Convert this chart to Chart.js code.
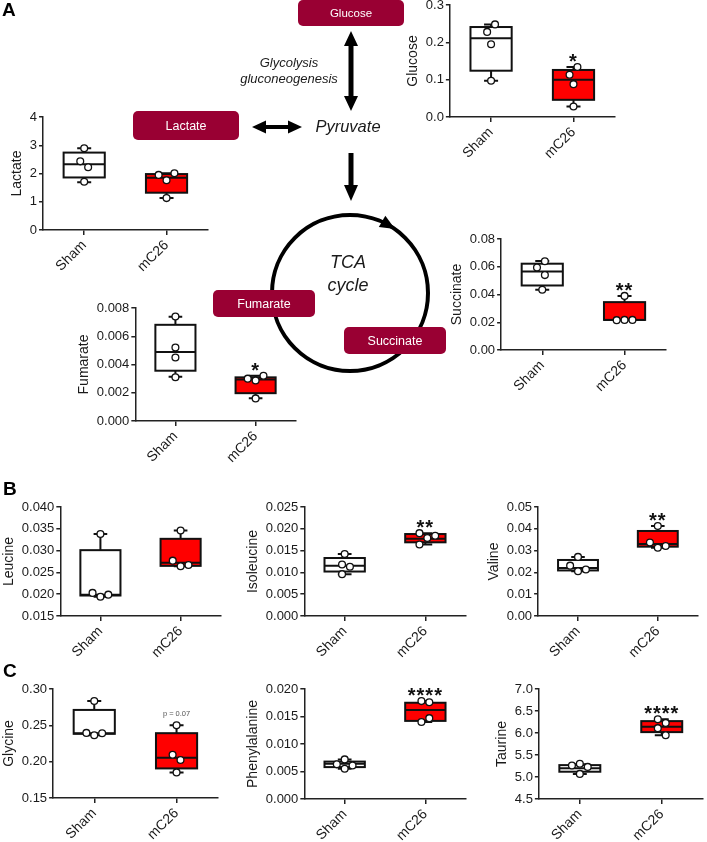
<!DOCTYPE html>
<html>
<head>
<meta charset="utf-8">
<script src="https://cdn.jsdelivr.net/npm/chart.js@4.4.1/dist/chart.umd.min.js"></script>
<style>
  body { margin: 0; background: #fff; width: 707px; height: 842px; position: relative; overflow: hidden; }
  #bg { position: absolute; left: 0; top: 0; }
  .box { position: absolute; }
  .box canvas { display: block; }
</style>
</head>
<body>
<canvas id="bg" width="707" height="842"></canvas>
<script>
const groups = ['Sham', 'mC26'];

// box stats per group: [min, q1, median, q3, max]
const glucoseBox = [[0.097, 0.124, 0.211, 0.241, 0.248], [0.028, 0.046, 0.100, 0.126, 0.134]];
const glucoseSham = [0.248, 0.228, 0.195, 0.097];
const glucoseMC26 = [0.134, 0.113, 0.088, 0.028];
const glucoseTicks = ['0.0', '0.1', '0.2', '0.3'];
const glucoseSig = ['', '*'];

const lactateBox = [[1.69, 1.86, 2.33, 2.74, 2.89], [1.13, 1.32, 1.85, 1.98, 2.01]];
const lactateSham = [2.89, 2.22, 2.43, 1.71];
const lactateMC26 = [1.76, 1.95, 2.01, 1.13];
const lactateTicks = ['0', '1', '2', '3', '4'];
const lactateSig = ['', ''];

const fumarateBox = [[0.00313, 0.00356, 0.00489, 0.00681, 0.00738], [0.00161, 0.00197, 0.00294, 0.00309, 0.0032]];
const fumarateSham = [0.0074, 0.0052, 0.0045, 0.0031];
const fumarateMC26 = [0.00287, 0.0030, 0.0032, 0.0016];
const fumarateTicks = ['0.000', '0.002', '0.004', '0.006', '0.008'];
const fumarateSig = ['', '*'];

const succinateBox = [[0.0434, 0.0465, 0.0566, 0.0622, 0.0641], [0.0215, 0.0217, 0.0217, 0.0345, 0.039]];
const succinateSham = [0.064, 0.0595, 0.054, 0.0434];
const succinateMC26 = [0.039, 0.0217, 0.0215, 0.0217];
const succinateTicks = ['0.00', '0.02', '0.04', '0.06', '0.08'];
const succinateSig = ['', '**'];

const leucineBox = [[0.0194, 0.0197, 0.0199, 0.0301, 0.0338], [0.0264, 0.0265, 0.0272, 0.0327, 0.0346]];
const leucineSham = [0.0338, 0.0194, 0.0203, 0.0199];
const leucineMC26 = [0.0346, 0.0264, 0.0277, 0.0267];
const leucineTicks = ['0.015', '0.020', '0.025', '0.030', '0.035', '0.040'];
const leucineSig = ['', ''];

const isoleucineBox = [[0.0096, 0.0102, 0.0115, 0.0133, 0.0142], [0.0164, 0.0169, 0.0177, 0.0188, 0.019]];
const isoleucineSham = [0.0142, 0.0113, 0.0118, 0.0096];
const isoleucineMC26 = [0.0179, 0.019, 0.0184, 0.0164];
const isoleucineTicks = ['0.000', '0.005', '0.010', '0.015', '0.020', '0.025'];
const isoleucineSig = ['', '**'];

const valineBox = [[0.0205, 0.0209, 0.0220, 0.0257, 0.0271], [0.0313, 0.0318, 0.0330, 0.0390, 0.0413]];
const valineSham = [0.0271, 0.0205, 0.0231, 0.0213];
const valineMC26 = [0.0413, 0.0313, 0.0337, 0.0321];
const valineTicks = ['0.00', '0.01', '0.02', '0.03', '0.04', '0.05'];
const valineSig = ['', '**'];

const glycineBox = [[0.2364, 0.2383, 0.2392, 0.2712, 0.2835], [0.1852, 0.1907, 0.2053, 0.2392, 0.250]];
const glycineSham = [0.2835, 0.2364, 0.2396, 0.2392];
const glycineMC26 = [0.250, 0.2022, 0.2095, 0.1852];
const glycineTicks = ['0.15', '0.20', '0.25', '0.30'];
const glycineSig = ['', 'p = 0.07'];

const pheBox = [[0.0055, 0.0058, 0.0064, 0.0068, 0.0072], [0.0140, 0.0142, 0.0162, 0.0175, 0.0178]];
const pheSham = [0.0072, 0.0063, 0.0061, 0.0055];
const pheMC26 = [0.0176, 0.0178, 0.0147, 0.0140];
const pheTicks = ['0.000', '0.005', '0.010', '0.015', '0.020'];
const pheSig = ['', '****'];

const taurineBox = [[5.07, 5.12, 5.20, 5.27, 5.29], [5.95, 6.02, 6.14, 6.27, 6.31]];
const taurineSham = [5.30, 5.26, 5.23, 5.07];
const taurineMC26 = [6.23, 6.11, 6.31, 5.95];
const taurineTicks = ['4.5', '5.0', '5.5', '6.0', '6.5', '7.0'];
const taurineSig = ['', '****'];

const FONT = '"Liberation Sans", Arial, sans-serif';
const AX = '#222';
const BOXFILL = ['#ffffff', '#ff0000'];
const MAROON = '#990033';

Chart.defaults.font.family = FONT;
Chart.defaults.color = '#1a1a1a';

// panel placement on the page (y axis line x, top/bottom of value range, end of x axis)
const panels = [
  {title: 'Glucose', box: glucoseBox, sham: glucoseSham, mc26: glucoseMC26, ticks: glucoseTicks, sig: glucoseSig, pos: {axisX: 450, top: 5, bottom: 117, xEnd: 617}},
  {title: 'Lactate', box: lactateBox, sham: lactateSham, mc26: lactateMC26, ticks: lactateTicks, sig: lactateSig, pos: {axisX: 43, top: 117, bottom: 230, xEnd: 210}},
  {title: 'Fumarate', box: fumarateBox, sham: fumarateSham, mc26: fumarateMC26, ticks: fumarateTicks, sig: fumarateSig, pos: {axisX: 135, top: 308, bottom: 421, xEnd: 298}},
  {title: 'Succinate', box: succinateBox, sham: succinateSham, mc26: succinateMC26, ticks: succinateTicks, sig: succinateSig, pos: {axisX: 501, top: 239, bottom: 350, xEnd: 668}},
  {title: 'Leucine', box: leucineBox, sham: leucineSham, mc26: leucineMC26, ticks: leucineTicks, sig: leucineSig, pos: {axisX: 60, top: 507, bottom: 616, xEnd: 223}},
  {title: 'Isoleucine', box: isoleucineBox, sham: isoleucineSham, mc26: isoleucineMC26, ticks: isoleucineTicks, sig: isoleucineSig, pos: {axisX: 304, top: 507, bottom: 616, xEnd: 468}},
  {title: 'Valine', box: valineBox, sham: valineSham, mc26: valineMC26, ticks: valineTicks, sig: valineSig, pos: {axisX: 538, top: 507, bottom: 616, xEnd: 700}},
  {title: 'Glycine', box: glycineBox, sham: glycineSham, mc26: glycineMC26, ticks: glycineTicks, sig: glycineSig, pos: {axisX: 53, top: 689, bottom: 798, xEnd: 220}},
  {title: 'Phenylalanine', box: pheBox, sham: pheSham, mc26: pheMC26, ticks: pheTicks, sig: pheSig, pos: {axisX: 304, top: 689, bottom: 799, xEnd: 468}},
  {title: 'Taurine', box: taurineBox, sham: taurineSham, mc26: taurineMC26, ticks: taurineTicks, sig: taurineSig, pos: {axisX: 539, top: 689, bottom: 799, xEnd: 705}}
];

// spread overlapping dots sideways like a column scatter
function swarm(vals, pxPerY, s) {
  const T = 8, placed = [];
  const off = vals.map(v => {
    for (const c of [0, -s, s, -2 * s, 2 * s]) {
      const hit = placed.some(p => Math.abs(p.dx - c) < s - 0.01 && Math.abs(p.v - v) * pxPerY < T);
      if (!hit) { placed.push({v: v, dx: c}); return c; }
    }
    placed.push({v: v, dx: 0});
    return 0;
  });
  const idx = vals.map((v, i) => i).sort((a, b) => vals[a] - vals[b]);
  let start = 0;
  for (let k = 1; k <= idx.length; k++) {
    if (k === idx.length || (vals[idx[k]] - vals[idx[k - 1]]) * pxPerY >= T) {
      const grp = idx.slice(start, k);
      const m = grp.reduce((a, i) => a + off[i], 0) / grp.length;
      grp.forEach(i => { off[i] -= m; });
      start = k;
    }
  }
  return off;
}

const boxPlugin = {
  id: 'boxes',
  beforeDatasetsDraw(chart, args, opts) {
    const ctx = chart.ctx, x = chart.scales.x, y = chart.scales.y;
    ctx.save();
    ctx.lineWidth = 2;
    ctx.strokeStyle = '#111';
    opts.stats.forEach((s, i) => {
      const cx = x.getPixelForValue(i);
      const hw = x.getPixelForValue(i + 0.25) - cx;
      const cw = x.getPixelForValue(i + 0.085) - cx;
      const p = s.map(v => y.getPixelForValue(v));
      ctx.beginPath();
      ctx.moveTo(cx, p[3]); ctx.lineTo(cx, p[4]);
      ctx.moveTo(cx - cw, p[4]); ctx.lineTo(cx + cw, p[4]);
      ctx.moveTo(cx, p[1]); ctx.lineTo(cx, p[0]);
      ctx.moveTo(cx - cw, p[0]); ctx.lineTo(cx + cw, p[0]);
      ctx.stroke();
      ctx.fillStyle = opts.fills[i];
      ctx.fillRect(cx - hw, p[3], 2 * hw, p[1] - p[3]);
      ctx.strokeRect(cx - hw, p[3], 2 * hw, p[1] - p[3]);
      ctx.beginPath();
      ctx.moveTo(cx - hw, p[2]); ctx.lineTo(cx + hw, p[2]);
      ctx.stroke();
    });
    ctx.restore();
  },
  afterDatasetsDraw(chart, args, opts) {
    const ctx = chart.ctx, x = chart.scales.x, y = chart.scales.y;
    opts.sig.forEach((t, i) => {
      if (!t) return;
      const cx = x.getPixelForValue(i);
      const top = y.getPixelForValue(opts.stats[i][4]);
      ctx.save();
      ctx.textAlign = 'center';
      ctx.textBaseline = 'alphabetic';
      if (t.charAt(0) === 'p') {
        ctx.font = '7.5px ' + FONT;
        ctx.fillStyle = '#555';
        ctx.fillText(t, cx, top - 9);
      } else {
        ctx.font = 'bold 20px ' + FONT;
        ctx.fillStyle = '#111';
        ctx.letterSpacing = '1px';
        ctx.fillText(t, cx, top + 1);
      }
      ctx.restore();
    });
  }
};

function chartConfig(sp) {
  const L = sp.pos;
  const tv = sp.ticks.map(Number);
  const min = tv[0], max = tv[tv.length - 1];
  const pxY = (L.bottom - L.top) / (max - min);
  const pxX = (L.xEnd - L.axisX) / 2;
  const pts = (vals, g) => swarm(vals, pxY, 8).map((dx, i) => ({x: g + dx / pxX, y: vals[i]}));
  return {
    type: 'scatter',
    data: {
      datasets: [
        {data: pts(sp.sham, 0)},
        {data: pts(sp.mc26, 1)}
      ]
    },
    options: {
      responsive: false,
      animation: false,
      events: [],
      layout: {padding: {top: 10, right: 3, left: 0, bottom: 0}},
      elements: {point: {radius: 3.4, backgroundColor: '#fff', borderColor: '#111', borderWidth: 1.3}},
      datasets: {scatter: {clip: false}},
      scales: {
        x: {
          type: 'linear', min: -0.5, max: 1.5,
          afterBuildTicks: a => { a.ticks = [{value: 0}, {value: 1}]; },
          afterFit: s => { s.height = 50; },
          grid: {drawOnChartArea: false, drawTicks: true, tickLength: 5, color: AX, lineWidth: 1.5},
          border: {color: AX, width: 1.5},
          ticks: {autoSkip: false, maxRotation: 45, minRotation: 45, padding: 2, font: {size: 14}, color: '#1a1a1a',
                  callback: v => groups[v]}
        },
        y: {
          type: 'linear', min: min, max: max,
          afterBuildTicks: a => { a.ticks = tv.map(v => ({value: v})); },
          grid: {drawOnChartArea: false, drawTicks: true, tickLength: 4, color: AX, lineWidth: 1.5},
          border: {color: AX, width: 1.5},
          ticks: {padding: 2, font: {size: 13}, color: '#1a1a1a',
                  callback: (v, i) => sp.ticks[i]},
          title: {display: true, text: sp.title, font: {size: 14}, color: '#1a1a1a', padding: {top: 0, bottom: 2}}
        }
      },
      plugins: {
        legend: {display: false},
        tooltip: {enabled: false},
        boxes: {stats: sp.box, fills: BOXFILL, sig: sp.sig}
      }
    },
    plugins: [boxPlugin]
  };
}

function build(sp) {
  const L = sp.pos;
  const wrap = document.createElement('div');
  wrap.className = 'box';
  document.body.appendChild(wrap);
  // first pass: measure where the library puts the plot area
  let cv = document.createElement('canvas');
  cv.width = 300; cv.height = 250;
  wrap.appendChild(cv);
  let ch = new Chart(cv, chartConfig(sp));
  const left = ch.chartArea.left, top = ch.chartArea.top;
  ch.destroy();
  wrap.removeChild(cv);
  // second pass at the final size
  cv = document.createElement('canvas');
  cv.width = Math.round(left + (L.xEnd - L.axisX) + 3);
  cv.height = Math.round(top + (L.bottom - L.top) + 50);
  wrap.appendChild(cv);
  wrap.style.left = (L.axisX - left) + 'px';
  wrap.style.top = (L.top - top) + 'px';
  new Chart(cv, chartConfig(sp));
}

// pathway diagram
function drawDiagram() {
  const ctx = document.getElementById('bg').getContext('2d');
  ctx.fillStyle = '#000';
  ctx.strokeStyle = '#000';

  function head(x, y, ang, len, wid) {
    const c = Math.cos(ang), s = Math.sin(ang);
    ctx.beginPath();
    ctx.moveTo(x, y);
    ctx.lineTo(x - len * c - wid / 2 * s, y - len * s + wid / 2 * c);
    ctx.lineTo(x - len * c + wid / 2 * s, y - len * s - wid / 2 * c);
    ctx.closePath();
    ctx.fill();
  }
  function line(x1, y1, x2, y2, w) {
    ctx.lineWidth = w;
    ctx.beginPath(); ctx.moveTo(x1, y1); ctx.lineTo(x2, y2); ctx.stroke();
  }

  // TCA cycle ring
  const cx = 350, cy = 293, r = 78;
  ctx.lineWidth = 4;
  ctx.beginPath(); ctx.arc(cx, cy, r, 0, Math.PI * 2); ctx.stroke();
  const th = -60 * Math.PI / 180;
  const px = cx + r * Math.cos(th), py = cy + r * Math.sin(th);
  const tang = th + Math.PI / 2;
  head(px + 7 * Math.cos(tang), py + 7 * Math.sin(tang), tang, 15, 13);

  // arrows
  line(351, 44, 351, 98, 5);
  head(351, 31, -Math.PI / 2, 15, 14);
  head(351, 111, Math.PI / 2, 15, 14);
  line(264, 127, 290, 127, 4);
  head(252, 127, Math.PI, 14, 13);
  head(302, 127, 0, 14, 13);
  line(351, 153, 351, 188, 5);
  head(351, 201, Math.PI / 2, 16, 14);

  // metabolite tags
  function tag(x, y, w, h, text, size) {
    ctx.fillStyle = MAROON;
    ctx.beginPath(); ctx.roundRect(x, y, w, h, 5); ctx.fill();
    ctx.fillStyle = '#fff';
    ctx.font = size + 'px ' + FONT;
    ctx.textAlign = 'center'; ctx.textBaseline = 'middle';
    ctx.fillText(text, x + w / 2, y + h / 2 + 1);
  }
  tag(298, 0, 106, 26, 'Glucose', 11.5);
  tag(133, 111, 106, 29, 'Lactate', 12.5);
  tag(213, 290, 102, 27, 'Fumarate', 12.5);
  tag(344, 327, 102, 27, 'Succinate', 12.5);

  ctx.fillStyle = '#1a1a1a';
  ctx.textAlign = 'center'; ctx.textBaseline = 'middle';
  ctx.font = 'italic 13px ' + FONT;
  ctx.fillText('Glycolysis', 289, 63);
  ctx.fillText('gluconeogenesis', 289, 79);
  ctx.font = 'italic 16.5px ' + FONT;
  ctx.fillText('Pyruvate', 348, 127);
  ctx.font = 'italic 18px ' + FONT;
  ctx.fillText('TCA', 348, 263);
  ctx.fillText('cycle', 348, 286);

  ctx.fillStyle = '#000';
  ctx.textAlign = 'left'; ctx.textBaseline = 'alphabetic';
  ctx.font = 'bold 19px ' + FONT;
  ctx.fillText('A', 2, 16);
  ctx.fillText('B', 3, 495);
  ctx.fillText('C', 3, 677);
}

drawDiagram();
panels.forEach(build);
</script>
</body>
</html>
